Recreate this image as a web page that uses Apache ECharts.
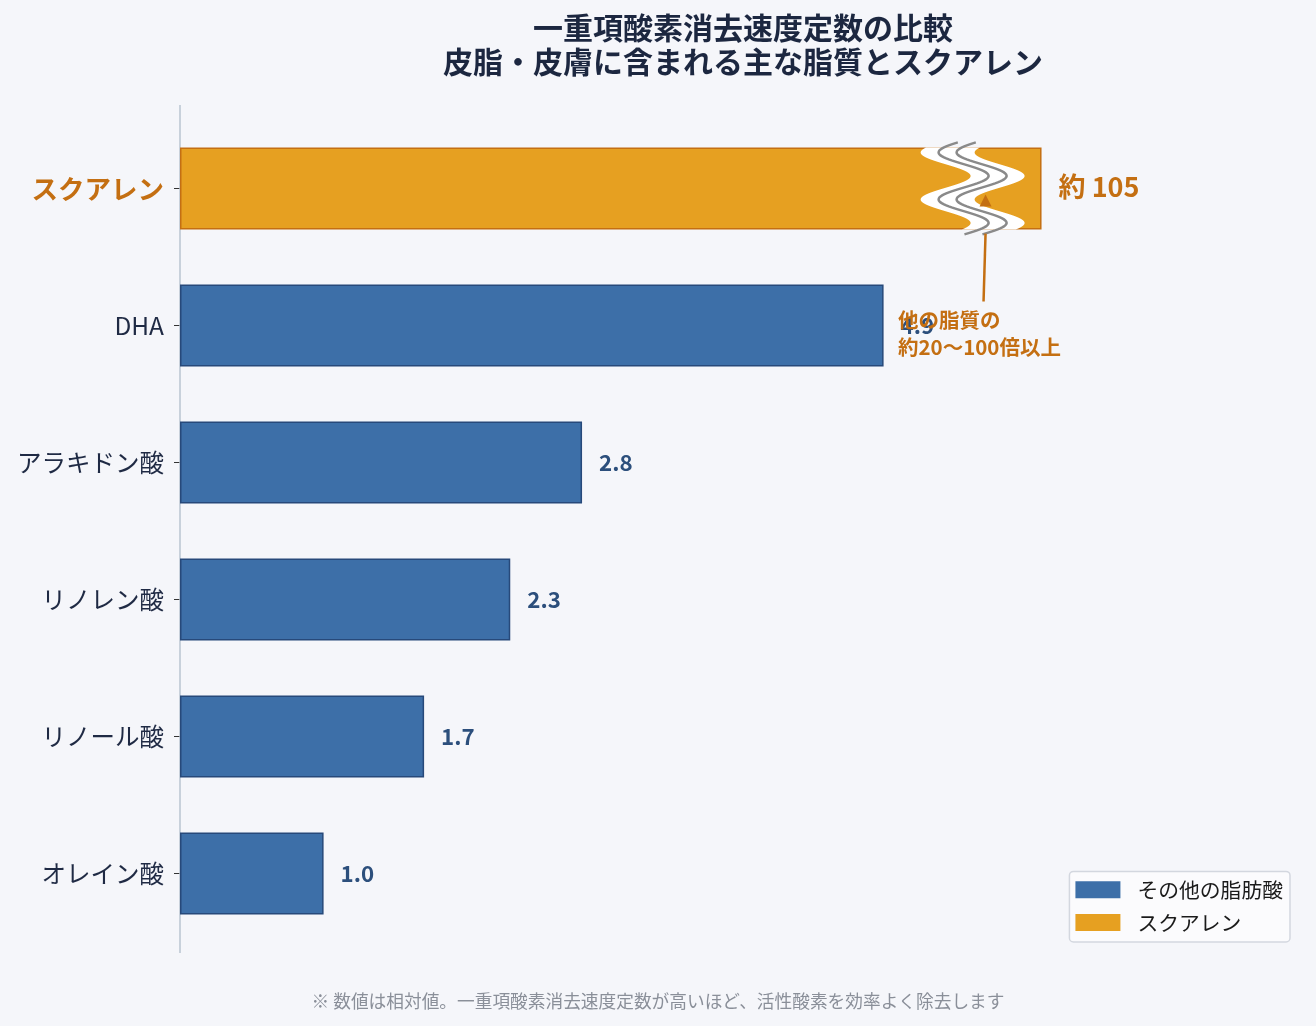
<!DOCTYPE html>
<html>
<head>
<meta charset="utf-8">
<script src="https://cdn.jsdelivr.net/npm/echarts@6/dist/echarts.min.js"></script>
<style>
  html, body { margin: 0; padding: 0; background: #f5f6fa; }
  #main { width: 1316px; height: 1026px; }
</style>
</head>
<body>
<div id="main"></div>
<script>
// データ
var categories = ['スクアレン', 'DHA', 'アラキドン酸', 'リノレン酸', 'リノール酸', 'オレイン酸'];
var otherValues = [null, 4.9, 2.8, 2.3, 1.7, 1.0];
var squaleneValues = [6.0, null, null, null, null, null];
var squaleneLabel = '約 105';
var noteText = '他の脂質の\n約20〜100倍以上';

var FONT = '"Noto Sans CJK JP", "Noto Sans", sans-serif';
var chart = echarts.init(document.getElementById('main'));

var option = {
    backgroundColor: '#f5f6fa',
    textStyle: { fontFamily: FONT },
    title: [{
        text: '一重項酸素消去速度定数の比較\n皮脂・皮膚に含まれる主な脂質とスクアレン',
        left: 738,
        top: 6,
        textAlign: 'center',
        textStyle: { fontSize: 30, fontWeight: 'bold', color: '#1c2740', lineHeight: 34, fontFamily: FONT }
    }, {
        text: '※ 数値は相対値。一重項酸素消去速度定数が高いほど、活性酸素を効率よく除去します',
        left: 'center',
        bottom: 11,
        textStyle: { fontSize: 17.7, fontWeight: 'normal', color: '#8a8f99', fontFamily: FONT }
    }],
    legend: {
        orient: 'vertical',
        right: 26,
        bottom: 84,
        icon: 'rect',
        itemWidth: 45,
        itemHeight: 17,
        itemGap: 12,
        padding: [8, 7, 9, 6],
        backgroundColor: '#fbfbfd',
        borderColor: '#d3d7df',
        borderWidth: 1.5,
        borderRadius: 4,
        textStyle: { fontSize: 20.8, color: '#1a1a1a', fontFamily: FONT, padding: [0, 0, 0, 12] },
        data: [
            { name: 'その他の脂肪酸', itemStyle: { borderWidth: 0 } },
            { name: 'スクアレン', itemStyle: { borderWidth: 0 } }
        ]
    },
    grid: { left: 180, right: 16, top: 120, height: 822 },
    xAxis: {
        type: 'value',
        min: 0,
        max: 7.8,
        show: false
    },
    yAxis: {
        type: 'category',
        data: categories,
        inverse: true,
        axisLine: { show: false },
        axisTick: { show: true, alignWithLabel: true, length: 6, lineStyle: { color: '#333' } },
        axisLabel: {
            margin: 16,
            fontSize: 24.5,
            color: '#1f2a44',
            fontFamily: FONT,
            formatter: function (v) {
                return v === 'スクアレン' ? '{sq|' + v + '}' : v;
            },
            rich: {
                sq: { fontSize: 26.5, fontWeight: 'bold', color: '#c46f12', fontFamily: FONT }
            }
        }
    },
    series: [{
        name: 'その他の脂肪酸',
        type: 'bar',
        data: otherValues,
        barWidth: '60%',
        barGap: '-100%',
        itemStyle: { color: '#3d6fa8', borderColor: '#27497a', borderWidth: 1.5 },
        label: {
            show: true,
            position: 'right',
            distance: 17,
            fontSize: 22.3,
            fontWeight: 'bold',
            color: '#2c4f7c',
            fontFamily: FONT,
            formatter: function (p) { return p.value.toFixed(1); }
        }
    }, {
        name: 'スクアレン',
        type: 'bar',
        data: squaleneValues,
        barWidth: '60%',
        itemStyle: { color: '#e6a021', borderColor: '#c46f12', borderWidth: 1.5 },
        label: {
            show: true,
            position: 'right',
            distance: 17,
            offset: [0, -2],
            fontSize: 27,
            fontWeight: 'bold',
            color: '#c46f12',
            fontFamily: FONT,
            formatter: squaleneLabel
        }
    }]
};

chart.setOption(option);

// 軸線・波線・注釈
function drawDecor() {
    var p0 = chart.convertToPixel({ gridIndex: 0 }, [0, 0]);
    var p1 = chart.convertToPixel({ gridIndex: 0 }, [0, 1]);
    var band = p1[1] - p0[1];
    var half = band * 0.3;
    var brk = chart.convertToPixel({ gridIndex: 0 }, [5.52, 0]);
    var cx = brk[0], cy = brk[1];
    var yTop = cy - half, yBot = cy + half;

    function wave(off, y0, y1) {
        var pts = [];
        for (var y = y0; y <= y1; y += 1) {
            var x = cx + off - 25 * Math.cos(2 * Math.PI * (y - (yTop + 5)) / 47);
            pts.push([x, y]);
        }
        return pts;
    }
    var left = wave(-27, yTop, yBot);
    var right = wave(27, yTop, yBot).reverse();
    var ribbon = left.concat(right);

    var arrowX = chart.convertToPixel({ gridIndex: 0 }, [5.61, 0])[0];
    var note = chart.convertToPixel({ gridIndex: 0 }, [5.0, 1]);

    chart.setOption({
        graphic: [{
            type: 'line',
            shape: { x1: p0[0], y1: p0[1] - band * 0.61, x2: p0[0], y2: p0[1] + band * 5.58 },
            style: { stroke: '#b8c4d0', lineWidth: 1.5 },
            z: 1
        }, {
            type: 'polygon',
            shape: { points: ribbon },
            style: { fill: '#ffffff' },
            z: 10
        }, {
            type: 'polyline',
            shape: { points: wave(-9, yTop - 5, yBot + 5) },
            style: { stroke: '#8a8a8a', lineWidth: 2.5, fill: null },
            z: 11
        }, {
            type: 'polyline',
            shape: { points: wave(9, yTop - 5, yBot + 5) },
            style: { stroke: '#8a8a8a', lineWidth: 2.5, fill: null },
            z: 11
        }, {
            type: 'line',
            shape: { x1: arrowX - 2, y1: note[1] - 24, x2: arrowX, y2: yBot + 4 },
            style: { stroke: '#c46f12', lineWidth: 2.5 },
            z: 12
        }, {
            type: 'polygon',
            shape: { points: [[arrowX, cy + 6], [arrowX - 6, cy + 18], [arrowX + 6, cy + 18]] },
            style: { fill: '#c46f12' },
            z: 12
        }, {
            type: 'text',
            x: note[0],
            y: note[1] + 8,
            style: {
                text: noteText,
                fontSize: 20.5,
                fontWeight: 'bold',
                fill: '#c46f12',
                fontFamily: FONT,
                lineHeight: 27,
                verticalAlign: 'middle',
                align: 'left'
            },
            z: 12
        }]
    });
}
drawDecor();
</script>
</body>
</html>
